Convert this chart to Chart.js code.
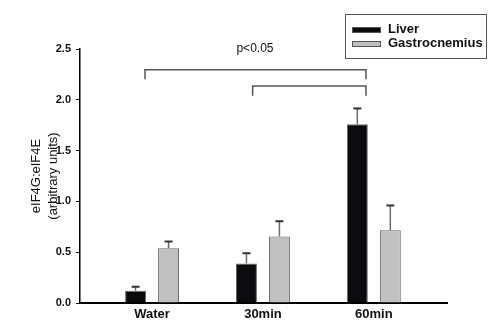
<!DOCTYPE html>
<html>
<head>
<meta charset="utf-8">
<script src="https://cdn.jsdelivr.net/npm/chart.js@4/dist/chart.umd.min.js"></script>
<style>
  html, body { margin: 0; padding: 0; background: #fff; }
  #wrap { width: 503px; height: 332px; }
</style>
</head>
<body>
<div id="wrap"><canvas id="c" width="503" height="332"></canvas></div>
<script>
// ---- data ----
const categories = ['Water', '30min', '60min'];
const seriesNames = ['Liver', 'Gastrocnemius'];
const liver = [0.12, 0.39, 1.76];
const liverErr = [0.04, 0.10, 0.155];
const gastro = [0.54, 0.655, 0.715];
const gastroErr = [0.065, 0.15, 0.245];
const yTicks = [0, 0.5, 1.0, 1.5, 2.0, 2.5];
const sigLabel = 'p<0.05';
const yTitle = ['eIF4G:eIF4E', '(arbitrary units)'];

const FONT = "'Liberation Sans', Arial, sans-serif";

const errors = [liverErr, gastroErr];

const errorBarPlugin = {
  id: 'errorBars',
  afterDatasetsDraw(chart) {
    const ctx = chart.ctx;
    const y = chart.scales.y;
    chart.data.datasets.forEach((ds, di) => {
      const meta = chart.getDatasetMeta(di);
      meta.data.forEach((bar, i) => {
        const v = ds.data[i].y;
        const top = y.getPixelForValue(v + errors[di][i]);
        ctx.save();
        ctx.strokeStyle = '#6a6a6a';
        ctx.lineWidth = 1.5;
        ctx.beginPath();
        ctx.moveTo(bar.x, bar.y);
        ctx.lineTo(bar.x, top);
        ctx.stroke();
        ctx.strokeStyle = '#333';
        ctx.lineWidth = 2;
        ctx.beginPath();
        ctx.moveTo(bar.x - 4, top);
        ctx.lineTo(bar.x + 4, top);
        ctx.stroke();
        ctx.restore();
      });
    });
  }
};

// significance brackets in data units: [xFrom, xTo, yLine, yEnd]
const brackets = [[-0.064, 1.929, 2.295, 2.203], [0.907, 1.929, 2.137, 2.04]];

const annotPlugin = {
  id: 'annot',
  afterDraw(chart) {
    const ctx = chart.ctx;
    const xs = chart.scales.x, ys = chart.scales.y;
    ctx.save();
    brackets.forEach(b => {
      const x1 = xs.getPixelForValue(b[0]), x2 = xs.getPixelForValue(b[1]);
      const yl = ys.getPixelForValue(b[2]), ye = ys.getPixelForValue(b[3]);
      ctx.strokeStyle = '#555';
      ctx.lineWidth = 1.5;
      ctx.beginPath();
      ctx.moveTo(x1, ye);
      ctx.lineTo(x1, yl);
      ctx.lineTo(x2, yl);
      ctx.lineTo(x2, ye);
      ctx.stroke();
    });
    ctx.fillStyle = '#111';
    ctx.font = '12px ' + FONT;
    ctx.textAlign = 'center';
    ctx.textBaseline = 'middle';
    ctx.fillText(sigLabel, xs.getPixelForValue(0.928), ys.getPixelForValue(2.5));

    // legend
    ctx.strokeStyle = '#555';
    ctx.lineWidth = 1;
    ctx.strokeRect(345.5, 14.5, 141, 44);
    chart.data.datasets.forEach((ds, i) => {
      const sy = 27 + i * 14;
      ctx.fillStyle = ds.backgroundColor;
      ctx.fillRect(352, sy, 29, 6);
      ctx.strokeStyle = '#555';
      ctx.strokeRect(352.5, sy + 0.5, 28, 5);
      ctx.fillStyle = '#111';
      ctx.font = 'bold 13px ' + FONT;
      ctx.textAlign = 'left';
      ctx.textBaseline = 'middle';
      ctx.fillText(ds.label, 388, sy + 2);
    });
    ctx.restore();
  }
};

new Chart(document.getElementById('c'), {
  type: 'bar',
  data: {
    datasets: [
      {
        label: seriesNames[0],
        data: categories.map((c, i) => ({ x: i, y: liver[i] })),
        backgroundColor: '#0b0b0d',
        borderColor: '#666',
        borderWidth: 1
      },
      {
        label: seriesNames[1],
        data: categories.map((c, i) => ({ x: i, y: gastro[i] })),
        backgroundColor: '#c0c0c0',
        borderColor: '#666',
        borderWidth: 1
      }
    ]
  },
  options: {
    responsive: false,
    animation: false,
    devicePixelRatio: 1,
    categoryPercentage: 0.595,
    barPercentage: 0.635,
    layout: { padding: { left: 0, right: 56, top: 49, bottom: 0 } },
    plugins: { legend: { display: false }, tooltip: { enabled: false } },
    scales: {
      x: {
        type: 'linear',
        offset: false,
        min: -0.65,
        max: 2.66,
        afterBuildTicks: s => { s.ticks = categories.map((c, i) => ({ value: i })); },
        afterFit: s => { s.height = 29; },
        grid: { display: false, drawTicks: false, offset: false },
        border: { display: true, color: '#000', width: 2 },
        ticks: {
          autoSkip: false,
          maxRotation: 0,
          padding: 4,
          color: '#111',
          font: { family: FONT, size: 13, weight: 'bold' },
          callback: v => categories[v]
        }
      },
      y: {
        min: 0,
        max: 2.5,
        afterBuildTicks: s => { s.ticks = yTicks.map(v => ({ value: v })); },
        afterFit: s => { s.width = 80; },
        grid: { drawOnChartArea: false, drawTicks: true, tickLength: 4, color: '#000', lineWidth: 1 },
        border: { display: true, color: '#000', width: 1.5 },
        ticks: {
          padding: 5,
          color: '#111',
          font: { family: FONT, size: 11, weight: 'bold' },
          callback: v => Number(v).toFixed(1)
        },
        title: {
          display: true,
          text: yTitle,
          color: '#111',
          font: { family: FONT, size: 13, lineHeight: 1.3 },
          padding: { top: 28, bottom: 0 }
        }
      }
    }
  },
  plugins: [errorBarPlugin, annotPlugin]
});
</script>
</body>
</html>
